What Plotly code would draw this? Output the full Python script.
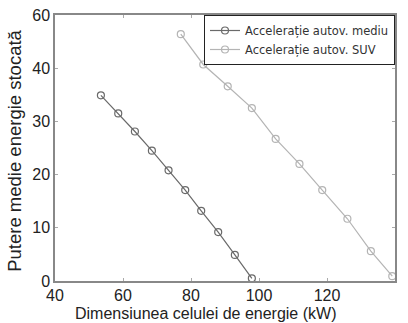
import plotly.graph_objects as go

# Data
medium_x = [53.5, 58.6, 63.5, 68.5, 73.4, 78.3, 83.0, 88.0, 92.9, 97.9]
medium_y = [34.9, 31.5, 28.1, 24.5, 20.8, 17.1, 13.2, 9.2, 4.9, 0.5]
suv_x = [77.0, 83.6, 90.8, 97.9, 104.9, 111.9, 118.6, 126.0, 132.9, 139.2]
suv_y = [46.4, 40.7, 36.6, 32.5, 26.7, 22.0, 17.1, 11.7, 5.6, 0.9]

y_tickvals = [0, 10, 20, 30, 40, 50]
y_ticktext = ["0", "10", "20", "30", "40", "60"]
x_tickvals = [40, 60, 80, 100, 120, 140]

x_title = "Dimensiunea celulei de energie (kW)"
y_title = "Putere medie energie stocată"

font_family = "Liberation Sans, Arial, sans-serif"

fig = go.Figure()
fig.add_trace(go.Scatter(
    x=medium_x, y=medium_y, mode="lines+markers",
    name="Accelerație autov. mediu",
    line=dict(color="#6a6a6a", width=1.2),
    marker=dict(symbol="circle-open", size=7, color="#6a6a6a", line=dict(width=1.2)),
))
fig.add_trace(go.Scatter(
    x=suv_x, y=suv_y, mode="lines+markers",
    name="Accelerație autov. SUV",
    line=dict(color="#b4b4b4", width=1.2),
    marker=dict(symbol="circle-open", size=7, color="#b4b4b4", line=dict(width=1.2)),
))

axis_common = dict(
    showline=True, linecolor="#888888", linewidth=1.5, mirror="ticks",
    ticks="inside", ticklen=3, tickcolor="#aaaaaa",
    showgrid=False, zeroline=False, automargin=False,
    tickfont=dict(family=font_family, size=16, color="#222222"),
)

fig.update_layout(
    width=408, height=323,
    margin=dict(l=55, r=13, t=15, b=42),
    paper_bgcolor="white", plot_bgcolor="white",
    font=dict(family=font_family, color="#222222"),
    showlegend=True,
    legend=dict(
        x=1.0, y=1.0, xanchor="right", yanchor="top",
        bordercolor="#222222", borderwidth=1, bgcolor="white",
        font=dict(family="DejaVu Sans, sans-serif", size=11.5, color="#333333"),
        tracegroupgap=0, itemwidth=30,
    ),
    xaxis=dict(range=[40, 140], tickvals=x_tickvals, ticklabelstandoff=-1, **axis_common),
    yaxis=dict(range=[0, 50], tickvals=y_tickvals, ticktext=y_ticktext, **axis_common),
    annotations=[
        dict(text=x_title, xref="paper", yref="paper", x=0.444, y=-0.158,
             xanchor="center", yanchor="bottom", showarrow=False, borderpad=0,
             font=dict(family=font_family, size=16, color="#222222")),
        dict(text=y_title, xref="paper", yref="paper", x=-0.118, y=0.489,
             xanchor="center", yanchor="middle", showarrow=False, textangle=-90,
             font=dict(family=font_family, size=18.5, color="#222222")),
    ],
)

fig.write_html("out.html")
